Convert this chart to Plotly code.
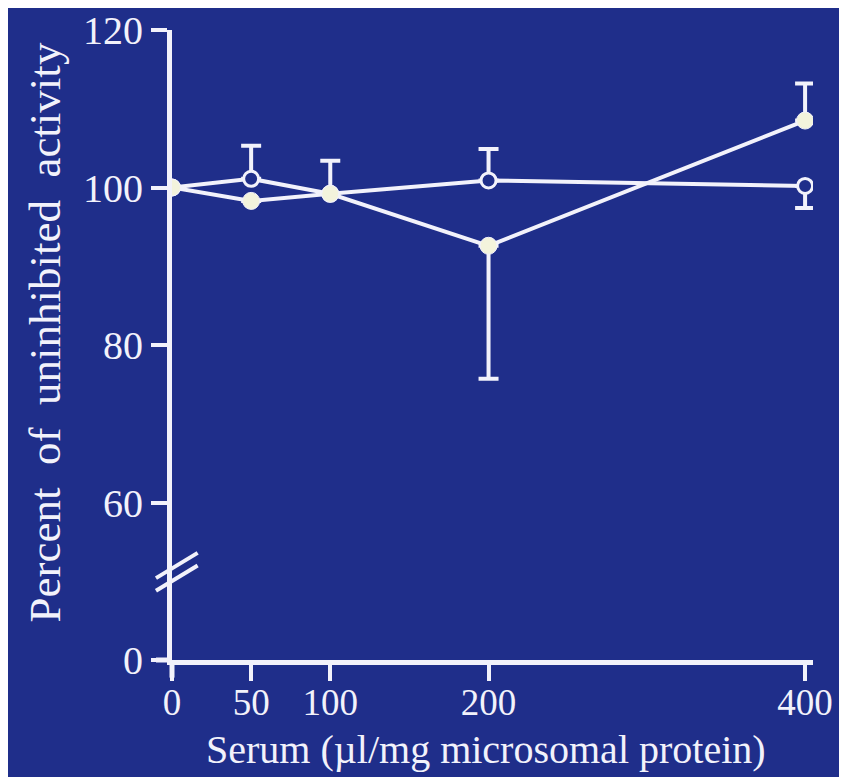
import plotly.graph_objects as go

serum = [0, 50, 100, 200, 400]

open_vals = [100, 101.1, 99.2, 100.9, 100.2]
open_err_plus = [0, 4.2, 4.2, 4.0, 0]
open_err_minus = [0, 0, 0, 0, 2.8]

filled_vals = [100, 98.3, 99.2, 92.6, 108.5]
filled_err_plus = [0, 0, 0, 0, 4.7]
filled_err_minus = [0, 0, 0, 16.9, 0]

x_ticks = [0, 50, 100, 200, 400]
y_tickvals = [40, 60, 80, 100, 120]
y_ticktext = ["0", "60", "80", "100", "120"]

BG = "#1f2e8a"
FG = "#f2f2fb"
FONT = "Liberation Serif"
SP = "\u00a0\u00a0"

fig = go.Figure()

fig.add_trace(go.Scatter(
    x=serum, y=open_vals, mode="lines+markers",
    line=dict(color=FG, width=4),
    marker=dict(symbol="circle", size=15, color=BG, line=dict(color=FG, width=3)),
    error_y=dict(type="data", symmetric=False, array=open_err_plus,
                 arrayminus=open_err_minus, color=FG, thickness=4, width=10),
    showlegend=False,
))

fig.add_trace(go.Scatter(
    x=serum, y=filled_vals, mode="lines+markers",
    line=dict(color=FG, width=4),
    marker=dict(symbol="circle", size=17, color="#f3f3dc", line=dict(color=FG, width=1)),
    error_y=dict(type="data", symmetric=False, array=filled_err_plus,
                 arrayminus=filled_err_minus, color=FG, thickness=4, width=10),
    showlegend=False,
))

# axis extensions and break marks
fig.add_shape(type="line", xref="paper", yref="paper", x0=-0.025, x1=0, y0=0, y1=0,
              line=dict(color=FG, width=5))
fig.add_shape(type="line", xref="paper", yref="paper", x0=0, x1=0, y0=-0.028, y1=0,
              line=dict(color=FG, width=5))
for dy in (0, 0.02):
    fig.add_shape(type="line", xref="paper", yref="paper",
                  x0=-0.025, x1=0.04, y0=0.11 + dy, y1=0.15 + dy,
                  line=dict(color=FG, width=4))

fig.add_annotation(text=SP.join(["Percent", "of", "uninhibited", "activity"]),
                   xref="paper", yref="paper",
                   x=-0.198, y=0.52, textangle=-90, showarrow=False,
                   xanchor="center", yanchor="middle",
                   font=dict(family=FONT, size=45, color=FG))
fig.add_annotation(text="Serum (µl/mg microsomal protein)", xref="paper", yref="paper",
                   x=0.49, y=-0.142, showarrow=False,
                   xanchor="center", yanchor="middle",
                   font=dict(family=FONT, size=40, color=FG))

fig.update_layout(
    width=847, height=777,
    margin=dict(l=164, r=42, t=22, b=125, autoexpand=False),
    paper_bgcolor=BG, plot_bgcolor=BG,
    font=dict(family=FONT, size=40, color=FG),
    xaxis=dict(range=[0, 405], tickvals=x_ticks, showgrid=False, zeroline=False,
               automargin=False,
               showline=True, linecolor=FG, linewidth=5,
               ticks="outside", ticklen=16, tickwidth=4, tickcolor=FG,
               ticklabelstandoff=-10,
               tickfont=dict(family=FONT, size=37, color=FG)),
    yaxis=dict(range=[40, 120], tickvals=y_tickvals, ticktext=y_ticktext,
               showgrid=False, zeroline=False, automargin=False,
               showline=True, linecolor=FG, linewidth=5,
               ticks="outside", ticklen=16, tickwidth=4, tickcolor=FG,
               tickfont=dict(family=FONT, size=40, color=FG)),
)

fig.write_html("out.html")
